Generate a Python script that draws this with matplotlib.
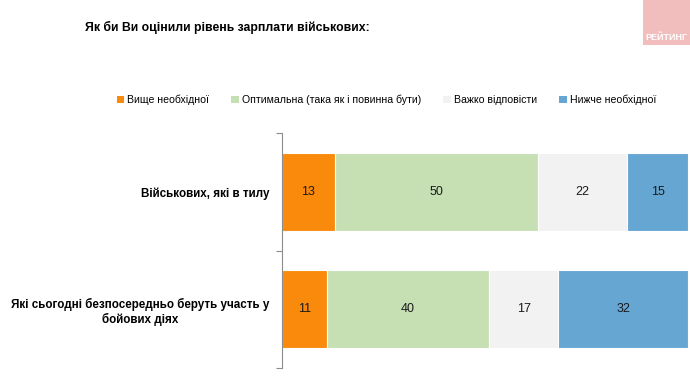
import matplotlib
matplotlib.use("Agg")
import matplotlib.pyplot as plt
from matplotlib.patches import Patch, Rectangle
import numpy as np

plt.rcParams['font.family'] = ['Liberation Sans', 'DejaVu Sans']

title = "Як би Ви оцінили рівень зарплати військових:"
categories = ["Військових, які в тилу",
              "Які сьогодні безпосередньо беруть участь у\nбойових діях"]
series_names = ["Вище необхідної", "Оптимальна (така як і повинна бути)",
                "Важко відповісти", "Нижче необхідної"]
values = {
    "Вище необхідної": [13, 11],
    "Оптимальна (така як і повинна бути)": [50, 40],
    "Важко відповісти": [22, 17],
    "Нижче необхідної": [15, 32],
}
colors = ["#F98A0B", "#C6E0B4", "#F2F2F2", "#66A6D3"]

fig = plt.figure(figsize=(6.9, 3.77), dpi=100)
ax = fig.add_axes([0.4087, 0.024, 0.589, 0.623])

y = np.arange(len(categories))
left = np.zeros(len(categories))
for name, col in zip(series_names, colors):
    vals = np.array(values[name])
    bars = ax.barh(y, vals, left=left, height=0.66, color=col, edgecolor='white', linewidth=0.8)
    for b, v in zip(bars, vals):
        ax.text(b.get_x() + b.get_width() / 2, b.get_y() + b.get_height() / 2, str(v),
                ha='center', va='center', fontsize=9, color='#1a1a1a')
    left += vals

ax.set_xlim(0, 100)
ax.set_ylim(len(categories) - 0.5, -0.5)
ax.set_xticks([])
ax.set_yticks(y)
ax.set_yticklabels(categories, fontsize=8.4, fontweight='bold', ha='right', multialignment='center')
ax.tick_params(axis='y', which='major', length=0, pad=9)
ax.set_yticks(np.arange(-0.5, len(categories), 1.0), minor=True)
ax.tick_params(axis='y', which='minor', length=4, color='#8c8c8c', width=0.8)
for s in ['top', 'right', 'bottom']:
    ax.spines[s].set_visible(False)
ax.spines['left'].set_color('#8c8c8c')
ax.spines['left'].set_linewidth(0.8)

fig.text(0.33, 0.928, title, ha='center', va='center', fontsize=8.8, fontweight='bold')

handles = [Patch(facecolor=c, edgecolor='none') for c in colors]
fig.legend(handles, series_names, loc='center', bbox_to_anchor=(0.56, 0.735), ncol=4,
           frameon=False, fontsize=7.6, handlelength=0.7, handleheight=0.7,
           handletextpad=0.3, columnspacing=2.1, borderaxespad=0)

# logo box in the corner
fig.patches.append(Rectangle((0.932, 0.88), 0.068, 0.12, transform=fig.transFigure,
                             facecolor='#F2BDBD', edgecolor='none'))
fig.text(0.966, 0.9, "РЕЙТИНГ", ha='center', va='center', fontsize=6.5,
         fontweight='bold', color='white')

fig.savefig("out.png", dpi=100)
